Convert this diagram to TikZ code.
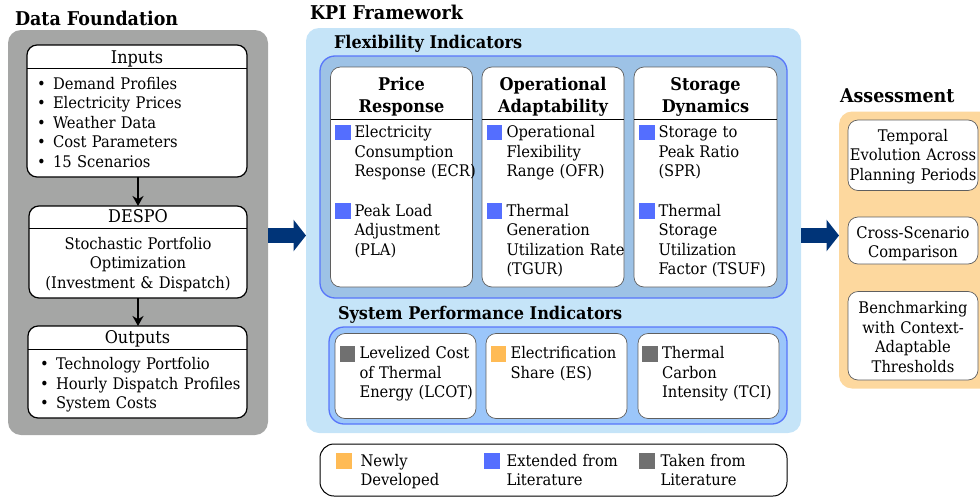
\documentclass[tikz,border=0pt]{standalone}
\usepackage{fontspec}
\setmainfont[FakeStretch=0.92]{DejaVu Serif}
\usetikzlibrary{arrows.meta}
\definecolor{panelgray}{RGB}{165,166,165}
\definecolor{kpiblue}{RGB}{197,228,248}
\definecolor{flexblue}{RGB}{157,194,230}
\definecolor{spiblue}{RGB}{155,198,250}
\definecolor{borderblue}{RGB}{88,118,250}
\definecolor{markblue}{RGB}{84,110,255}
\definecolor{markorange}{RGB}{255,187,85}
\definecolor{markgray}{RGB}{112,112,112}
\definecolor{assessorange}{RGB}{253,216,158}
\definecolor{arrowblue}{RGB}{0,52,120}
\definecolor{cardgray}{RGB}{95,95,95}
\newcommand\fbody{\fontsize{16}{19.5}\selectfont}
\newcommand\fhead{\fontsize{17.5}{22}\selectfont}
\newcommand\ftitle{\fontsize{19}{23}\selectfont\bfseries}
\newcommand\fsub{\fontsize{17.5}{22}\selectfont\bfseries}
\newcommand\bul[1]{\makebox[16pt][l]{\textbullet}#1}
\begin{document}
\begin{tikzpicture}[x=1pt,y=-1pt,
  every node/.style={inner sep=0pt, outer sep=0pt},
  panel/.style={anchor=north west, rounded corners=13pt},
  dfbox/.style={anchor=north west, draw=black, line width=1.2pt, fill=white, rounded corners=10pt},
  kcard/.style={anchor=north west, draw=cardgray, line width=0.7pt, fill=white, rounded corners=10pt},
  lst/.style={anchor=base west, font=\fbody, text width=260pt, align=left},
  ctr/.style={anchor=base, font=\fbody, text width=200pt, align=center},
  hdr/.style={anchor=base, font=\fhead, text width=200pt, align=center},
  khdr/.style={anchor=base, font=\fsub, text width=140pt, align=center},
  ttl/.style={anchor=base west, font=\ftitle},
  sub/.style={anchor=base west, font=\fsub},
  sq/.style={anchor=north west, minimum width=15.5pt, minimum height=15.5pt},
  blockarrow/.style={draw=arrowblue, line width=14.5pt, -{Triangle[width=31pt,length=12.5pt]}},
  flowarrow/.style={draw=black, line width=2.4pt, -{Stealth[length=10pt,width=11pt]}}
]
\useasboundingbox (0,0) rectangle (980,498);

% ---------------- Data Foundation ----------------
\node[ttl] (dftitle) at (15,25) {Data Foundation};
\node[panel, fill=panelgray, minimum width=260pt, minimum height=405pt] (df) at (8,30) {};

\node[dfbox, minimum width=220pt, minimum height=132pt] (inputs) at (27,45) {};
\draw[line width=0.8pt] (inputs.west |- 0,68) -- (inputs.east |- 0,68);
\node[hdr] (inhdr) at (137,63) {Inputs};
\node[lst] (inlist) at (37,89) {\bul{Demand Profiles}\\\bul{Electricity Prices}\\\bul{Weather Data}\\\bul{Cost Parameters}\\\bul{15 Scenarios}};

\node[dfbox, minimum width=218pt, minimum height=92pt] (despo) at (29,206) {};
\draw[line width=0.8pt] (despo.west |- 0,228) -- (despo.east |- 0,228);
\node[hdr] (despohdr) at (138,222.5) {DESPO};
\node[ctr] (despotxt) at (138,249) {Stochastic Portfolio\\Optimization\\(Investment \& Dispatch)};

\node[dfbox, minimum width=219pt, minimum height=92pt] (outputs) at (28,326) {};
\draw[line width=0.8pt] (outputs.west |- 0,349) -- (outputs.east |- 0,349);
\node[hdr] (outhdr) at (137.5,343) {Outputs};
\node[lst] (outlist) at (40,369.5) {\bul{Technology Portfolio}\\\bul{Hourly Dispatch Profiles}\\\bul{System Costs}};

\draw[flowarrow] (inputs.south -| despohdr) -- (despo.north -| despohdr);
\draw[flowarrow] (despo.south -| despohdr) -- (outputs.north -| despohdr);

% ---------------- KPI Framework ----------------
\node[ttl] (kpititle) at (310,19) {KPI Framework};
\node[panel, fill=kpiblue, minimum width=495pt, minimum height=405pt] (kpi) at (306,28) {};
\node[sub] (flextitle) at (334,48) {Flexibility Indicators};
\node[panel, fill=flexblue, draw=borderblue, line width=1.3pt, rounded corners=15pt, minimum width=467pt, minimum height=242pt] (flex) at (320,56) {};

% Price Response
\node[kcard, minimum width=142pt, minimum height=220pt] (pr) at (330.5,67) {};
\draw[line width=0.8pt] (pr.west |- 0,119) -- (pr.east |- 0,119);
\node[khdr] (prhdr) at (401.5,90) {Price\\Response};
\node[sq, fill=markblue] (prm1) at (335,124.5) {};
\node[lst] (ecr) at (354.5,137.5) {Electricity\\Consumption\\Response (ECR)};
\node[sq, fill=markblue] (prm2) at (335,203) {};
\node[lst] (pla) at (354.5,216) {Peak Load\\Adjustment\\(PLA)};

% Operational Adaptability
\node[kcard, minimum width=142pt, minimum height=220pt] (oa) at (482,67) {};
\draw[line width=0.8pt] (oa.west |- 0,119) -- (oa.east |- 0,119);
\node[khdr] (oahdr) at (553,90) {Operational\\Adaptability};
\node[sq, fill=markblue] (oam1) at (486.5,124.5) {};
\node[lst] (ofr) at (506.5,137.5) {Operational\\Flexibility\\Range (OFR)};
\node[sq, fill=markblue] (oam2) at (486.5,203) {};
\node[lst] (tgur) at (506.5,216) {Thermal\\Generation\\Utilization Rate\\(TGUR)};

% Storage Dynamics
\node[kcard, minimum width=143pt, minimum height=220pt] (sd) at (634,67) {};
\draw[line width=0.8pt] (sd.west |- 0,119) -- (sd.east |- 0,119);
\node[khdr] (sdhdr) at (705.5,90) {Storage\\Dynamics};
\node[sq, fill=markblue] (sdm1) at (639,124.5) {};
\node[lst] (spr) at (658.5,137.5) {Storage to\\Peak Ratio\\(SPR)};
\node[sq, fill=markblue] (sdm2) at (639,203) {};
\node[lst] (tsuf) at (658.5,216) {Thermal\\Storage\\Utilization\\Factor (TSUF)};

% System Performance Indicators
\node[sub] (spititle) at (338,319) {System Performance Indicators};
\node[panel, fill=spiblue, draw=borderblue, line width=1.3pt, rounded corners=15pt, minimum width=458pt, minimum height=97pt] (spi) at (329,327) {};
\node[kcard, minimum width=141pt, minimum height=85pt] (lc) at (335,333.5) {};
\node[sq, fill=markgray] (lcm) at (339.5,346) {};
\node[lst] (lcot) at (359.5,358.5) {Levelized Cost\\of Thermal\\Energy (LCOT)};
\node[kcard, minimum width=141pt, minimum height=85pt] (el) at (486,333.5) {};
\node[sq, fill=markorange] (elm) at (490.5,346) {};
\node[lst] (es) at (510.5,358.5) {Electrification\\Share (ES)};
\node[kcard, minimum width=141pt, minimum height=85pt] (tc) at (638,333.5) {};
\node[sq, fill=markgray] (tcm) at (642,346) {};
\node[lst] (tci) at (662,358.5) {Thermal\\Carbon\\Intensity (TCI)};

% Legend
\node[panel, draw=black, line width=1pt, fill=white, rounded corners=14pt, minimum width=467pt, minimum height=52pt] (legend) at (320,444) {};
\node[sq, fill=markorange, minimum width=16pt, minimum height=16pt] (lgo) at (336,453.3) {};
\node[lst] (lgotxt) at (360.5,466) {Newly\\Developed};
\node[sq, fill=markblue, minimum width=16pt, minimum height=16pt] (lgb) at (484,453.3) {};
\node[lst] (lgbtxt) at (506.5,466) {Extended from\\Literature};
\node[sq, fill=markgray, minimum width=16pt, minimum height=16pt] (lgg) at (639,453.3) {};
\node[lst] (lggtxt) at (660.5,466) {Taken from\\Literature};

% ---------------- Assessment ----------------
\node[ttl] (astitle) at (840,102) {Assessment};
\node[panel, fill=assessorange, minimum width=170pt, minimum height=277pt] (as) at (839,111.5) {};
\node[kcard, minimum width=130pt, minimum height=70.5pt] (a1) at (848,120) {};
\node[ctr] (a1t) at (913,141) {Temporal\\Evolution Across\\Planning Periods};
\node[kcard, minimum width=130pt, minimum height=47pt] (a2) at (848,217) {};
\node[ctr] (a2t) at (913,238) {Cross-Scenario\\Comparison};
\node[kcard, minimum width=130pt, minimum height=88.5pt] (a3) at (848,291.5) {};
\node[ctr] (a3t) at (913,313.5) {Benchmarking\\with Context-\\Adaptable\\Thresholds};

% ---------------- Block arrows ----------------
\draw[blockarrow] ([yshift=-3pt]df.east) -- ([yshift=-5pt]kpi.west);
\draw[blockarrow] ([yshift=-5pt]kpi.east) -- (as.west |- 0,235.5);
\end{tikzpicture}
\end{document}
